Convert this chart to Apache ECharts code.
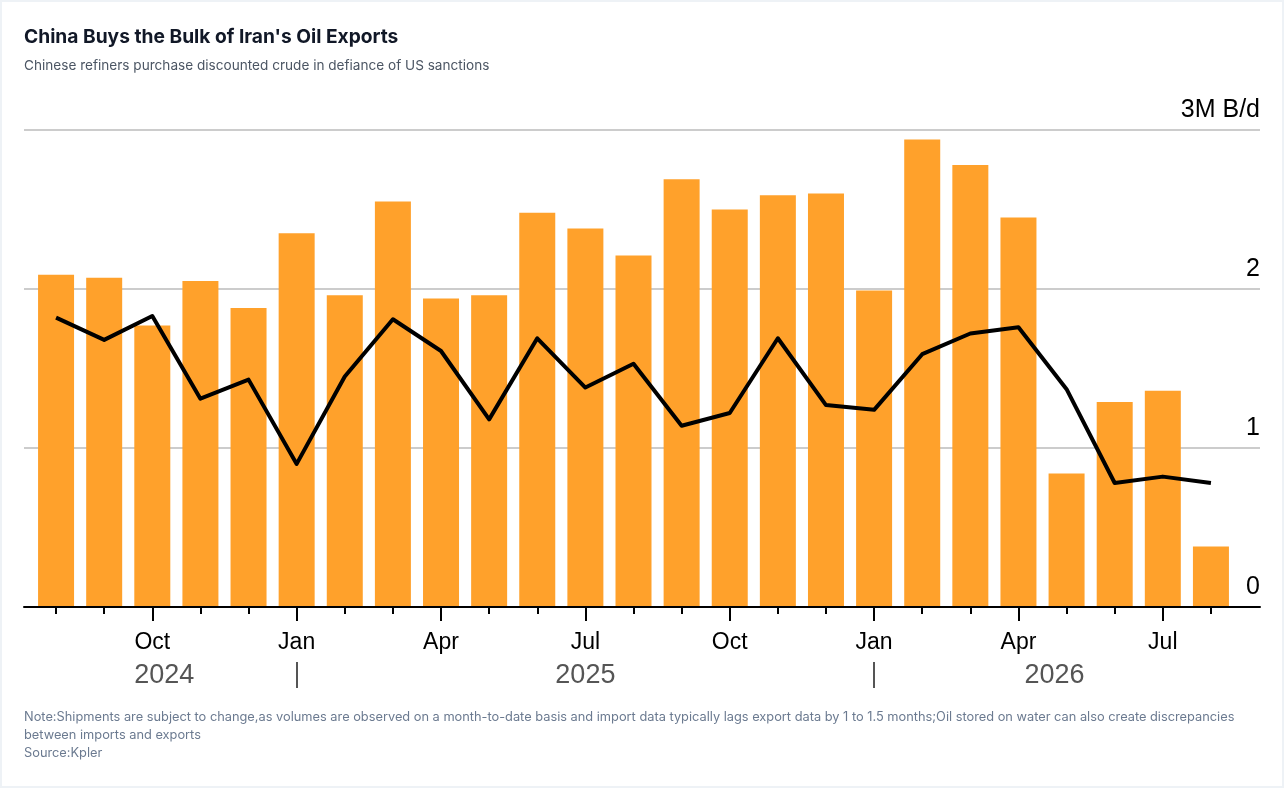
<!DOCTYPE html>
<html>
<head>
<meta charset="utf-8">
<script src="https://cdn.jsdelivr.net/npm/echarts@6/dist/echarts.min.js"></script>
<style>
  html, body { margin: 0; padding: 0; background: #eef2f6; }
  #card { position: absolute; left: 2px; top: 2px; width: 1280px; height: 784px; background: #fff; }
  #chart { position: absolute; left: -2px; top: -2px; width: 1284px; height: 788px; }
</style>
</head>
<body>
<div id="card"><div id="chart"></div></div>
<script>
// ---- Data ----
const months = ['2024-08','2024-09','2024-10','2024-11','2024-12',
  '2025-01','2025-02','2025-03','2025-04','2025-05','2025-06','2025-07','2025-08','2025-09','2025-10','2025-11','2025-12',
  '2026-01','2026-02','2026-03','2026-04','2026-05','2026-06','2026-07','2026-08'];
const iranExports = [2.09,2.07,1.77,2.05,1.88,2.35,1.96,2.55,1.94,1.96,2.48,2.38,2.21,2.69,2.50,2.59,2.60,1.99,2.94,2.78,2.45,0.84,1.29,1.36,0.38];
const chinaImports = [1.82,1.68,1.83,1.31,1.43,0.90,1.45,1.81,1.61,1.18,1.69,1.38,1.53,1.14,1.22,1.69,1.27,1.24,1.59,1.72,1.76,1.37,0.78,0.82,0.78];
const monthNames = {'01':'Jan','04':'Apr','07':'Jul','10':'Oct'};
const yTicks = [0, 1, 2, 3];
const yUnit = 'M B/d';
const titleText = "China Buys the Bulk of Iran's Oil Exports";
const subtitleText = 'Chinese refiners purchase discounted crude in defiance of US sanctions';
const noteText = 'Note:Shipments are subject to change,as volumes are observed on a month-to-date basis and import data typically lags export data by 1 to 1.5 months;Oil stored on water can also create discrepancies\nbetween imports and exports\nSource:Kpler';

// ---- Derived: year separators and centers (in category index units) ----
const n = months.length;
const yearStarts = [];   // indices of January
months.forEach((m, i) => { if (m.endsWith('-01')) yearStarts.push(i); });
const bounds = [-0.5, ...yearStarts, n - 0.5];
const yearCenters = [];
const yearOfCenter = {};
for (let k = 0; k < bounds.length - 1; k++) {
  const c = (bounds[k] + bounds[k + 1]) / 2;
  yearCenters.push(c);
  const idx = Math.min(n - 1, Math.max(0, Math.ceil(bounds[k])));
  yearOfCenter[c] = months[idx].slice(0, 4);
}
const isQuarter = (i) => monthNames[months[i].slice(5)] !== undefined;

const font = '"Liberation Sans", Arial, Helvetica, sans-serif';
const uiFont = 'Inter, "Noto Sans", sans-serif';

const chart = echarts.init(document.getElementById('chart'));
chart.setOption({
  backgroundColor: 'transparent',
  animation: false,
  title: [
    { text: titleText, left: 24, top: 28, padding: 0, textStyle: { fontFamily: uiFont, fontSize: 19.2, fontWeight: 'bold', color: '#111827' } },
    { text: subtitleText, left: 24, top: 59, padding: 0, textStyle: { fontFamily: uiFont, fontSize: 13.6, fontWeight: 'normal', color: '#4b5563' } },
    { text: noteText, left: 24, top: 708, padding: 0, textStyle: { fontFamily: uiFont, fontSize: 12.8, fontWeight: 'normal', color: '#6b7a90', lineHeight: 18 } }
  ],
  grid: [
    { left: 24, right: 24, top: 130, bottom: 181 },
    { left: 32, right: 49, top: 130, bottom: 181 }
  ],
  xAxis: [
    { gridIndex: 0, type: 'value', min: 0, max: 1, position: 'bottom', z: 10,
      axisLine: { show: true, onZero: false, lineStyle: { color: '#000', width: 2 } },
      axisTick: { show: false }, axisLabel: { show: false }, splitLine: { show: false } },
    { gridIndex: 1, type: 'category', data: months, position: 'bottom',
      axisLine: { show: false },
      axisTick: { show: true, alignWithLabel: true, interval: 0, length: 7, lineStyle: { color: '#000', width: 2 } },
      axisLabel: { interval: 0, margin: 24, fontFamily: font, fontSize: 23, color: '#000',
        formatter: (v) => monthNames[v.slice(5)] || '' } },
    { gridIndex: 1, type: 'category', data: months, position: 'bottom',
      axisLine: { show: false },
      axisTick: { show: true, alignWithLabel: true, interval: (i) => isQuarter(i), length: 14, lineStyle: { color: '#000', width: 2 } },
      axisLabel: { show: false } },
    { gridIndex: 1, type: 'value', min: -0.5, max: n - 0.5, position: 'bottom', offset: 55,
      axisLine: { show: false },
      axisTick: { show: true, customValues: yearStarts, length: 26, lineStyle: { color: '#555', width: 2 } },
      axisLabel: { show: true, customValues: yearCenters, margin: 0, fontFamily: font, fontSize: 27, color: '#555',
        formatter: (v) => yearOfCenter[v] || '' },
      splitLine: { show: false } }
  ],
  yAxis: [
    { gridIndex: 0, type: 'value', min: yTicks[0], max: yTicks[yTicks.length - 1], interval: 1, position: 'right',
      axisLine: { show: false }, axisTick: { show: false },
      splitLine: { show: true, lineStyle: { color: '#cccccc', width: 2 } },
      axisLabel: { inside: true, margin: 0, verticalAlign: 'bottom', padding: [0, 0, 7, 0],
        fontFamily: font, fontSize: 25, color: '#000',
        formatter: (v) => v === yTicks[yTicks.length - 1] ? v + yUnit : String(v) } },
    { gridIndex: 1, type: 'value', min: yTicks[0], max: yTicks[yTicks.length - 1], show: false }
  ],
  series: [
    { name: 'Iran oil exports', type: 'bar', xAxisIndex: 1, yAxisIndex: 1, data: iranExports,
      barWidth: 36, itemStyle: { color: '#FFA12B' } },
    { name: 'China imports of Iranian oil', type: 'line', xAxisIndex: 1, yAxisIndex: 1, data: chinaImports,
      symbol: 'none', lineStyle: { color: '#000', width: 4, join: 'round' }, z: 5 }
  ]
});
</script>
</body>
</html>
